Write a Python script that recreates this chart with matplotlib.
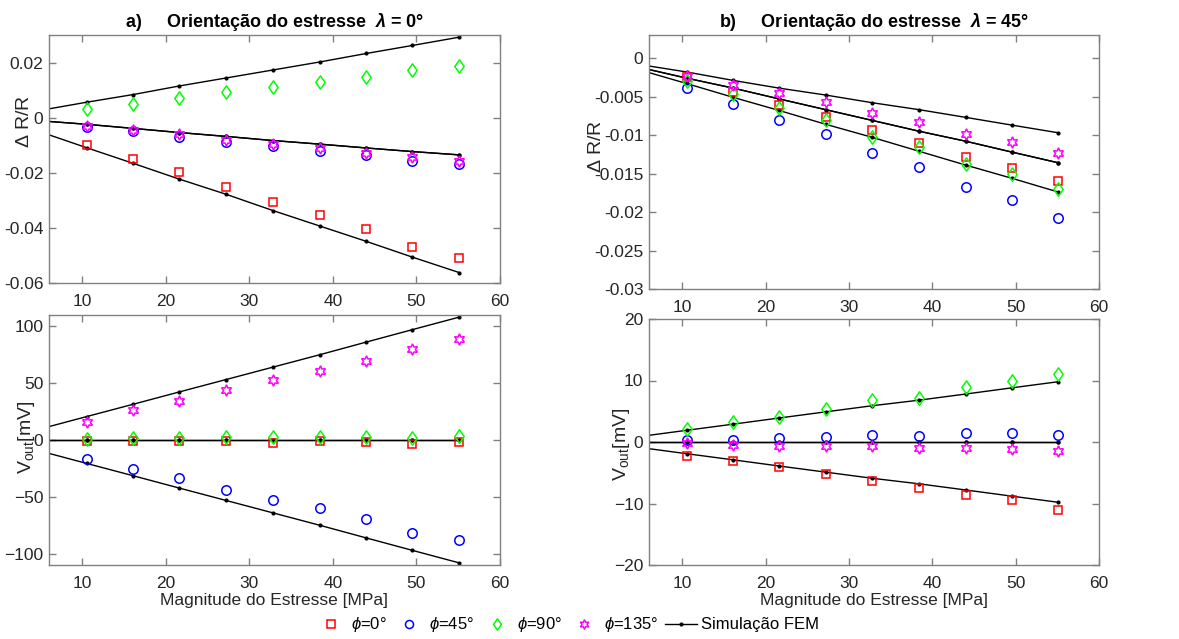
import matplotlib
matplotlib.use("Agg")
import matplotlib.pyplot as plt
from matplotlib.lines import Line2D
from matplotlib.path import Path

plt.rcParams['font.family'] = ['Liberation Sans', 'DejaVu Sans']
plt.rcParams['mathtext.fontset'] = 'custom'
plt.rcParams['mathtext.rm'] = 'Liberation Sans'
plt.rcParams['mathtext.it'] = 'Liberation Sans:italic'
plt.rcParams['mathtext.bf'] = 'Liberation Sans:bold:italic'

# Stress magnitudes [MPa]
stress = [10.5, 16.1, 21.6, 27.2, 32.8, 38.4, 44.0, 49.5, 55.1]
# FEM curves start at zero stress
stress_fem = [0.0] + stress

# ---- a) lambda = 0 deg : Delta R / R ----
dr0_phi0 = [-0.0101, -0.0150, -0.0198, -0.0250, -0.0307, -0.0355, -0.0404, -0.0471, -0.0508]
dr0_phi45 = [-0.0035, -0.0049, -0.0069, -0.0089, -0.0104, -0.0121, -0.0137, -0.0158, -0.0169]
dr0_phi90 = [0.0033, 0.0051, 0.0071, 0.0092, 0.0110, 0.0130, 0.0149, 0.0172, 0.0188]
dr0_phi135 = [-0.0029, -0.0045, -0.0058, -0.0080, -0.0095, -0.0110, -0.0127, -0.0144, -0.0157]
dr0_fem_phi0 = [0.0, -0.0109, -0.0166, -0.0223, -0.0278, -0.0337, -0.0393, -0.0449, -0.0506, -0.0562]
dr0_fem_phi45 = [0.0, -0.0024, -0.0039, -0.0054, -0.0068, -0.0083, -0.0096, -0.0110, -0.0123, -0.0135]
dr0_fem_phi90 = [0.0, 0.0056, 0.0084, 0.0115, 0.0144, 0.0173, 0.0202, 0.0233, 0.0262, 0.0292]
dr0_fem_phi135 = [0.0, -0.0024, -0.0039, -0.0054, -0.0068, -0.0083, -0.0096, -0.0110, -0.0123, -0.0135]

# ---- b) lambda = 45 deg : Delta R / R ----
dr45_phi0 = [-0.0025, -0.0044, -0.0061, -0.0076, -0.0093, -0.0110, -0.0128, -0.0143, -0.0160]
dr45_phi45 = [-0.0039, -0.0060, -0.0080, -0.0099, -0.0123, -0.0141, -0.0167, -0.0185, -0.0208]
dr45_phi90 = [-0.0030, -0.0047, -0.0065, -0.0081, -0.0102, -0.0115, -0.0137, -0.0151, -0.0170]
dr45_phi135 = [-0.0023, -0.0035, -0.0046, -0.0057, -0.0071, -0.0083, -0.0098, -0.0109, -0.0123]
dr45_fem_phi0 = [0.0, -0.0026, -0.0039, -0.0053, -0.0067, -0.0081, -0.0095, -0.0108, -0.0122, -0.0136]
dr45_fem_phi45 = [0.0, -0.0026, -0.0039, -0.0053, -0.0067, -0.0081, -0.0095, -0.0108, -0.0122, -0.0136]
dr45_fem_phi90 = [0.0, -0.0033, -0.0051, -0.0068, -0.0086, -0.0103, -0.0121, -0.0139, -0.0156, -0.0174]
dr45_fem_phi135 = [0.0, -0.0018, -0.0029, -0.0039, -0.0048, -0.0058, -0.0067, -0.0077, -0.0087, -0.0097]

# ---- a) lambda = 0 deg : Vout [mV] ----
v0_phi0 = [-1.0, -1.2, -1.0, -1.2, -2.5, -1.0, -1.5, -3.5, -2.0]
v0_phi45 = [-16.8, -25.1, -33.3, -43.7, -53.1, -59.9, -69.3, -81.7, -87.6]
v0_phi90 = [1.0, 1.5, 1.5, 2.5, 2.5, 2.5, 2.5, 1.5, 3.5]
v0_phi135 = [16.2, 26.0, 33.9, 43.7, 52.8, 60.8, 69.9, 80.5, 88.8]
v0_fem_phi0 = [0.0, 0.0, 0.0, 0.0, 0.0, 0.0, 0.0, 0.0, 0.0, 0.0]
v0_fem_phi45 = [0.0, -20.6, -31.5, -42.3, -53.2, -64.1, -75.0, -86.2, -97.1, -108.1]
v0_fem_phi90 = [0.0, 0.0, 0.0, 0.0, 0.0, 0.0, 0.0, 0.0, 0.0, 0.0]
v0_fem_phi135 = [0.0, 20.6, 31.5, 42.3, 53.2, 64.1, 75.0, 86.2, 97.1, 108.1]

# ---- b) lambda = 45 deg : Vout [mV] ----
v45_phi0 = [-2.2, -3.1, -4.1, -5.2, -6.3, -7.5, -8.6, -9.5, -11.0]
v45_phi45 = [0.3, 0.4, 0.6, 0.8, 1.2, 0.9, 1.4, 1.4, 1.2]
v45_phi90 = [2.1, 3.2, 4.1, 5.3, 6.8, 7.2, 8.9, 10.0, 11.0]
v45_phi135 = [-0.2, -0.5, -0.6, -0.7, -0.7, -0.9, -0.9, -1.2, -1.5]
v45_fem_phi0 = [0.0, -1.9, -2.9, -3.9, -4.9, -5.9, -6.8, -7.8, -8.8, -9.8]
v45_fem_phi45 = [0.0, 0.0, 0.0, 0.0, 0.0, 0.0, 0.0, 0.0, 0.0, 0.0]
v45_fem_phi90 = [0.0, 1.9, 2.9, 3.9, 4.9, 5.9, 6.8, 7.8, 8.8, 9.8]
v45_fem_phi135 = [0.0, 0.0, 0.0, 0.0, 0.0, 0.0, 0.0, 0.0, 0.0, 0.0]

xlim = (6, 60)
xticks = [10, 20, 30, 40, 50, 60]

AX_COLOR = '#808080'
TXT_COLOR = '#262626'

# MATLAB-like diamond (wider than matplotlib's thin diamond)
diamond = Path([(0, 1), (0.7, 0), (0, -1), (-0.7, 0), (0, 1)],
               [Path.MOVETO, Path.LINETO, Path.LINETO, Path.LINETO, Path.CLOSEPOLY])

styles = [
    dict(marker='s', color='#FF0000', ms=6.0),
    dict(marker='o', color='#0000FF', ms=6.8),
    dict(marker=diamond, color='#00FF00', ms=9.6),
    dict(marker=(6, 1, 0), color='#FF00FF', ms=8.2),
]
labels = [r'$\phi$=0°', r'$\phi$=45°', r'$\phi$=90°', r'$\phi$=135°']

fig = plt.figure(figsize=(11.79, 6.39), dpi=100)
W, H = 1179, 639


def make_ax(left, top, right, bottom):
    return fig.add_axes([left / W, 1 - bottom / H, (right - left) / W, (bottom - top) / H])


def style_ax(ax, ylim, yticks, yticklabels=None):
    ax.set_xlim(*xlim)
    ax.set_ylim(*ylim)
    ax.set_xticks(xticks)
    ax.set_yticks(yticks)
    if yticklabels is not None:
        ax.set_yticklabels(yticklabels)
    for s in ax.spines.values():
        s.set_color(AX_COLOR)
        s.set_linewidth(1.0)
    ax.tick_params(direction='in', length=5, width=1.0, color=AX_COLOR,
                   labelcolor=TXT_COLOR, labelsize=12.5, top=True, right=True)
    ax.tick_params(axis='x', pad=8)
    ax.tick_params(axis='y', pad=4)


def draw(ax, meas, fems):
    for fem in fems:
        ax.plot(stress_fem, fem, color='black', lw=1.0, marker='.', ms=4, zorder=2)
    for vals, st in zip(meas, styles):
        ax.plot(stress, vals, linestyle='none', marker=st['marker'], ms=st['ms'],
                markerfacecolor='none', markeredgecolor=st['color'], markeredgewidth=1.1, zorder=3)


def ylabel(ax, text, x, y):
    ax.set_ylabel(text, fontsize=14, color=TXT_COLOR)
    ax.yaxis.set_label_coords(x, y)


# a) top
ax1 = make_ax(49, 35, 500, 283)
draw(ax1, [dr0_phi0, dr0_phi45, dr0_phi90, dr0_phi135],
     [dr0_fem_phi0, dr0_fem_phi45, dr0_fem_phi90, dr0_fem_phi135])
style_ax(ax1, (-0.06, 0.03), [-0.06, -0.04, -0.02, 0, 0.02],
         ['-0.06', '-0.04', '-0.02', '0', '0.02'])
ylabel(ax1, r'$\Delta$ R/R', -0.035, 0.65)
ax1.set_title(r'a)     Orientação do estresse  $\mathbf{\lambda}$ = 0°',
              fontsize=13, fontweight='bold', pad=6)

# b) top
ax2 = make_ax(649, 35, 1099, 289)
draw(ax2, [dr45_phi0, dr45_phi45, dr45_phi90, dr45_phi135],
     [dr45_fem_phi0, dr45_fem_phi45, dr45_fem_phi90, dr45_fem_phi135])
style_ax(ax2, (-0.03, 0.003), [-0.03, -0.025, -0.02, -0.015, -0.01, -0.005, 0],
         ['-0.03', '-0.025', '-0.02', '-0.015', '-0.01', '-0.005', '0'])
ylabel(ax2, r'$\Delta$ R/R', -0.098, 0.56)
ax2.set_title(r'b)     Orientação do estresse  $\mathbf{\lambda}$ = 45°',
              fontsize=13, fontweight='bold', pad=6)

# a) bottom
ax3 = make_ax(49, 315, 500, 565)
draw(ax3, [v0_phi0, v0_phi45, v0_phi90, v0_phi135],
     [v0_fem_phi0, v0_fem_phi45, v0_fem_phi90, v0_fem_phi135])
style_ax(ax3, (-110, 110), [-100, -50, 0, 50, 100])
ylabel(ax3, r'V$_{\mathrm{out}}$[mV]', -0.027, 0.51)
ax3.set_xlabel('Magnitude do Estresse [MPa]', fontsize=12.5, color=TXT_COLOR, labelpad=1)

# b) bottom
ax4 = make_ax(649, 319, 1099, 565)
draw(ax4, [v45_phi0, v45_phi45, v45_phi90, v45_phi135],
     [v45_fem_phi0, v45_fem_phi45, v45_fem_phi90, v45_fem_phi135])
style_ax(ax4, (-20, 20), [-20, -10, 0, 10, 20])
ylabel(ax4, r'V$_{\mathrm{out}}$[mV]', -0.038, 0.49)
ax4.set_xlabel('Magnitude do Estresse [MPa]', fontsize=12.5, color=TXT_COLOR, labelpad=1)

# shared legend
handles = []
for st, lab in zip(styles, labels):
    handles.append(Line2D([], [], linestyle='none', marker=st['marker'], ms=st['ms'] * 0.85,
                          markerfacecolor='none', markeredgecolor=st['color'],
                          markeredgewidth=1.1, label=lab))
handles.append(Line2D([], [], color='black', lw=1.0, marker='.', ms=4, label='Simulação FEM'))
fig.legend(handles=handles, loc='center', bbox_to_anchor=(567 / W, 1 - 625 / H), ncol=5,
           frameon=False, fontsize=12, handlelength=1.9, handletextpad=0.25,
           columnspacing=0.4, borderpad=0.2)

fig.savefig('out.png', dpi=100)
